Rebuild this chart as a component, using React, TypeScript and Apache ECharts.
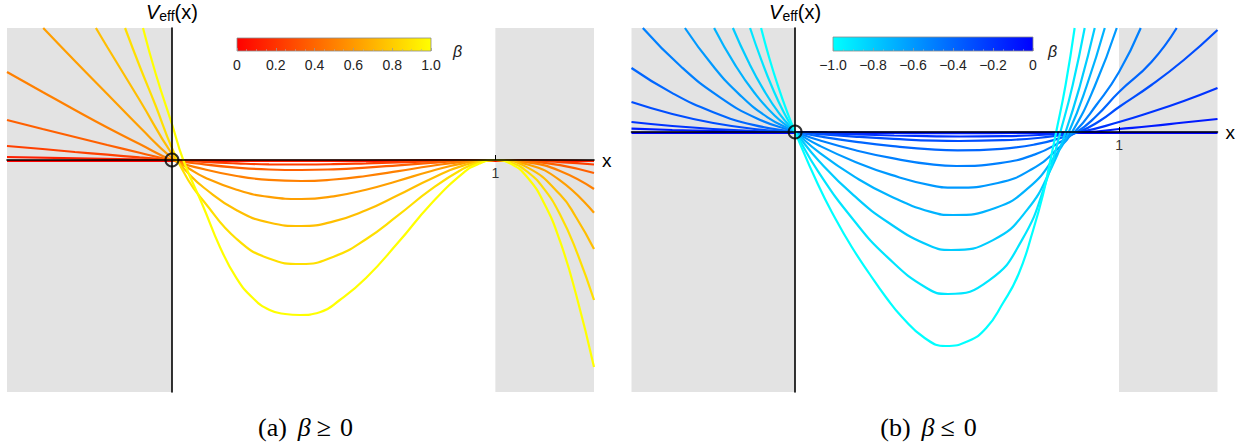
import React, { useEffect, useRef } from "react";
import * as echarts from "echarts";

// ---------- panel (a): beta >= 0 ----------
const X_RANGE_A = [-0.51, 1.305];
const Y_RANGE_A = [-2.32, 1.32];
const BETA_A = [0, 0.125, 0.25, 0.375, 0.5, 0.625, 0.75, 0.875, 1];

const a0 = [[-0.51, -0.01], [1.305, -0.01]];
const a1 = [[-0.51, 0.03], [-0.25, 0.014], [0, 0], [0.2, -0.005], [0.4, -0.006], [0.6, -0.005], [0.8, -0.002], [1.0, 0], [1.2, -0.004], [1.305, -0.01]];
const a2 = [[-0.51, 0.14], [-0.4, 0.11], [-0.3, 0.08], [-0.2, 0.053], [-0.1, 0.026], [0, 0], [0.1, -0.02], [0.2, -0.034], [0.3, -0.043], [0.4, -0.045], [0.5, -0.042], [0.6, -0.034], [0.7, -0.024], [0.8, -0.013], [0.9, -0.004], [1.0, 0], [1.1, -0.005], [1.2, -0.022], [1.305, -0.045]];
const a3 = [[-0.51, 0.4], [-0.4, 0.31], [-0.3, 0.23], [-0.2, 0.15], [-0.1, 0.073], [0, 0], [0.1, -0.044], [0.2, -0.076], [0.3, -0.095], [0.4, -0.1], [0.5, -0.093], [0.6, -0.076], [0.7, -0.053], [0.8, -0.029], [0.9, -0.009], [1.0, 0], [1.1, -0.012], [1.2, -0.052], [1.305, -0.13]];
const a4 = [[-0.51, 0.88], [-0.4, 0.68], [-0.3, 0.5], [-0.2, 0.325], [-0.1, 0.16], [0, 0], [0.1, -0.093], [0.2, -0.16], [0.3, -0.199], [0.4, -0.21], [0.5, -0.195], [0.6, -0.16], [0.7, -0.112], [0.8, -0.06], [0.9, -0.018], [1.0, 0], [1.1, -0.024], [1.2, -0.11], [1.305, -0.29]];
const a5 = [[-0.398, 1.32], [-0.3, 0.99], [-0.2, 0.66], [-0.1, 0.33], [0, 0.02], [0.05, -0.08], [0.1, -0.172], [0.2, -0.297], [0.3, -0.369], [0.4, -0.39], [0.5, -0.363], [0.6, -0.297], [0.7, -0.207], [0.8, -0.112], [0.9, -0.033], [1.0, 0], [1.1, -0.045], [1.2, -0.204], [1.305, -0.527]];
const a6 = [[-0.235, 1.32], [-0.2, 1.13], [-0.1, 0.6], [0, 0.06], [0.05, -0.13], [0.1, -0.28], [0.2, -0.503], [0.3, -0.625], [0.4, -0.66], [0.5, -0.614], [0.6, -0.503], [0.7, -0.35], [0.8, -0.189], [0.9, -0.056], [1.0, 0], [1.1, -0.076], [1.2, -0.346], [1.25, -0.575], [1.305, -0.89]];
const a7 = [[-0.145, 1.32], [-0.1, 0.94], [-0.05, 0.54], [0, 0.12], [0.05, -0.2], [0.1, -0.42], [0.2, -0.79], [0.3, -0.985], [0.4, -1.04], [0.5, -0.967], [0.6, -0.792], [0.7, -0.552], [0.8, -0.297], [0.9, -0.088], [0.95, -0.024], [1.0, 0], [1.05, -0.028], [1.1, -0.12], [1.15, -0.287], [1.2, -0.545], [1.25, -0.906], [1.305, -1.4]];
const a8 = [[-0.0895, 1.32], [-0.05, 0.86], [0, 0.36], [0.035, 0], [0.097, -0.467], [0.148, -0.867], [0.2, -1.183], [0.251, -1.383], [0.302, -1.5], [0.35, -1.54], [0.395, -1.55], [0.457, -1.523], [0.519, -1.4], [0.6, -1.18], [0.7, -0.823], [0.8, -0.443], [0.9, -0.132], [0.95, -0.036], [1.0, 0], [1.05, -0.041], [1.1, -0.178], [1.15, -0.428], [1.2, -0.812], [1.25, -1.35], [1.305, -2.07]];
const CURVES_A = [a0, a1, a2, a3, a4, a5, a6, a7, a8];

// ---------- panel (b): beta <= 0 ----------
const X_RANGE_B = [-0.505, 1.304];
const Y_RANGE_B = [-2.6, 1.04];
const BETA_B = [0, -0.1, -0.2, -0.3, -0.4, -0.5, -0.6, -0.7, -0.8, -0.9, -1.0];

const b0 = [[-0.505, -0.008], [1.304, -0.008]];
const b1 = [[-0.505, 0.034], [-0.379, 0.02], [-0.2525, 0.011], [-0.126, 0.004], [0, 0], [0.1, -0.004], [0.3, -0.009], [0.5, -0.012], [0.7, -0.009], [0.9, 0], [1.0, 0.03], [1.1, 0.06], [1.2, 0.095], [1.304, 0.13]];
const b2 = [[-0.505, 0.1], [-0.379, 0.06], [-0.2525, 0.03], [-0.126, 0.01], [0, 0], [0.076, -0.011], [0.191, -0.024], [0.306, -0.035], [0.437, -0.043], [0.508, -0.045], [0.644, -0.041], [0.753, -0.03], [0.835, -0.013], [0.88, 0], [1.0, 0.1], [1.1, 0.2], [1.2, 0.31], [1.304, 0.44]];
const b3 = [[-0.505, 0.3], [-0.379, 0.18], [-0.2525, 0.09], [-0.126, 0.03], [0, 0], [0.076, -0.022], [0.19, -0.048], [0.304, -0.069], [0.434, -0.087], [0.505, -0.09], [0.641, -0.082], [0.749, -0.06], [0.831, -0.026], [0.875, 0], [0.94, 0.11], [1.0, 0.25], [1.1, 0.47], [1.2, 0.72], [1.304, 1.02]];
const b4 = [[-0.505, 0.64], [-0.379, 0.389], [-0.2525, 0.198], [-0.126, 0.069], [0, 0], [0.076, -0.044], [0.189, -0.098], [0.302, -0.141], [0.432, -0.176], [0.502, -0.183], [0.637, -0.168], [0.745, -0.122], [0.825, -0.054], [0.87, 0], [0.93, 0.16], [1.0, 0.4], [1.1, 0.7], [1.178, 1.04]];
const b5 = [[-0.47, 1.04], [-0.3525, 0.655], [-0.235, 0.354], [-0.1175, 0.135], [0, 0], [0.075, -0.083], [0.187, -0.183], [0.3, -0.262], [0.428, -0.327], [0.498, -0.34], [0.632, -0.311], [0.739, -0.226], [0.819, -0.1], [0.863, 0], [0.93, 0.27], [1.0, 0.6], [1.067, 1.04]];
const b6 = [[-0.34, 1.04], [-0.255, 0.667], [-0.17, 0.369], [-0.085, 0.147], [0, 0], [0.074, -0.135], [0.186, -0.299], [0.297, -0.429], [0.424, -0.536], [0.493, -0.557], [0.626, -0.51], [0.732, -0.37], [0.812, -0.164], [0.855, 0], [0.924, 0.45], [0.993, 1.04]];
const b7 = [[-0.25, 1.04], [-0.1875, 0.683], [-0.125, 0.39], [-0.0625, 0.163], [0, 0], [0.073, -0.202], [0.183, -0.446], [0.293, -0.64], [0.419, -0.799], [0.487, -0.83], [0.618, -0.76], [0.723, -0.551], [0.802, -0.244], [0.845, 0], [0.9, 0.46], [0.956, 1.04]];
const b8 = [[-0.192, 1.04], [-0.144, 0.702], [-0.096, 0.416], [-0.048, 0.182], [0, 0], [0.073, -0.287], [0.181, -0.634], [0.29, -0.91], [0.414, -1.136], [0.482, -1.18], [0.611, -1.081], [0.715, -0.784], [0.793, -0.347], [0.835, 0], [0.88, 0.47], [0.925, 1.04]];
const b9 = [[-0.139, 1.04], [-0.104, 0.718], [-0.0695, 0.437], [-0.035, 0.198], [0, 0], [0.071, -0.394], [0.178, -0.87], [0.284, -1.249], [0.406, -1.56], [0.472, -1.62], [0.599, -1.484], [0.701, -1.076], [0.777, -0.476], [0.819, 0], [0.857, 0.47], [0.894, 1.04]];
const b10 = [[-0.105, 1.04], [-0.079, 0.733], [-0.0525, 0.458], [-0.026, 0.213], [0, 0], [0.07, -0.52], [0.125, -0.87], [0.175, -1.15], [0.23, -1.42], [0.28, -1.65], [0.33, -1.85], [0.4, -2.06], [0.465, -2.14], [0.535, -2.09], [0.59, -1.96], [0.64, -1.72], [0.69, -1.42], [0.735, -0.98], [0.765, -0.63], [0.785, -0.33], [0.806, 0], [0.835, 0.47], [0.863, 1.04]];
const CURVES_B = [b0, b1, b2, b3, b4, b5, b6, b7, b8, b9, b10];

// ---------- colour bars / texts ----------
const CB_A_TICKS = ["0", "0.2", "0.4", "0.6", "0.8", "1.0"];
const CB_B_TICKS = ["\u22121.0", "\u22120.8", "\u22120.6", "\u22120.4", "\u22120.2", "0"];
const X_TICK_VALUES = [1];
const X_TICK_LABELS = ["1"];
const CAPTION_A = "{t|(a)}{i|\u03b2}{r|\u2265}{t|0}";
const CAPTION_B = "{t|(b)}{i|\u03b2}{r|\u2264}{t|0}";

const SANS = "'Liberation Sans', Arial, Helvetica, sans-serif";
const SERIF = "'Liberation Serif', 'DejaVu Serif', 'Times New Roman', serif";

const hot = (b: number) => `rgb(255, ${Math.round(255 * b)}, 0)`;
const cool = (b: number) => `rgb(0, ${Math.round(255 * -b)}, 255)`;

function mainX(gridIndex: number, range: number[]) {
  return {
    gridIndex,
    type: "value",
    min: range[0],
    max: range[1],
    z: 3,
    name: "x",
    nameLocation: "end",
    nameGap: 8,
    nameTextStyle: { fontSize: 19, color: "#000", fontFamily: SANS },
    axisLine: { onZero: true, lineStyle: { color: "#000", width: 1.6 } },
    axisTick: { show: true, customValues: X_TICK_VALUES, inside: true, length: 5, lineStyle: { color: "#000", width: 1 } },
    axisLabel: { show: false },
    splitLine: { show: false },
  };
}

function mainY(gridIndex: number, range: number[]) {
  return {
    gridIndex,
    type: "value",
    min: range[0],
    max: range[1],
    z: 3,
    name: "{v|V}{s|eff}{p|(x)}",
    nameLocation: "end",
    nameGap: 5,
    nameTextStyle: {
      color: "#000",
      fontFamily: SANS,
      rich: {
        v: { fontSize: 20, fontStyle: "italic", lineHeight: 22, verticalAlign: "middle", fontFamily: SANS, color: "#000" },
        s: { fontSize: 14, lineHeight: 14, verticalAlign: "bottom", fontFamily: SANS, color: "#000" },
        p: { fontSize: 20, lineHeight: 22, verticalAlign: "middle", fontFamily: SANS, color: "#000" },
      },
    },
    axisLine: { onZero: true, lineStyle: { color: "#000", width: 1.6 } },
    axisTick: { show: false },
    axisLabel: { show: false },
    splitLine: { show: false },
  };
}

function cbX(gridIndex: number, min: number, labels: string[], gap: number) {
  return {
    gridIndex,
    type: "value",
    min,
    max: min + 1,
    interval: 0.2,
    z: 3,
    axisLine: { show: false },
    axisTick: { show: true, inside: true, length: 3, lineStyle: { color: "#999", width: 0.8 } },
    minorTick: { show: true, splitNumber: 4, length: 2, lineStyle: { color: "#aaa", width: 0.6 } },
    axisLabel: {
      formatter: (_v: number, i: number) => labels[i],
      margin: 7,
      fontSize: 14,
      color: "#222",
      fontFamily: SANS,
    },
    splitLine: { show: false },
    name: "\u03b2",
    nameLocation: "end",
    nameGap: gap,
    nameTextStyle: { fontStyle: "italic", fontSize: 16, color: "#222", fontFamily: SANS, padding: [0, 0, -4, 0] },
  };
}

export default function App() {
  const ref = useRef<HTMLDivElement>(null);

  useEffect(() => {
    if (!ref.current) return;
    const chart = echarts.init(ref.current, undefined, { renderer: "svg" });

    const curveSeries = (curves: number[][][], betas: number[], axis: number, colorFn: (b: number) => string) =>
      curves.map((data, i) => ({
        type: "line",
        xAxisIndex: axis,
        yAxisIndex: axis,
        data,
        showSymbol: false,
        symbol: "none",
        smooth: 0.5,
        silent: true,
        z: 2,
        lineStyle: { width: 2.2, color: colorFn(betas[i]) },
      }));

    const shade = (axis: number, range: number[]) => ({
      type: "line",
      xAxisIndex: axis,
      yAxisIndex: axis,
      data: [],
      symbol: "none",
      silent: true,
      z: 1,
      markArea: {
        silent: true,
        itemStyle: { color: "#e3e3e3" },
        data: [
          [{ xAxis: range[0] }, { xAxis: 0 }],
          [{ xAxis: 1 }, { xAxis: range[1] }],
        ],
      },
    });

    const origin = (axis: number) => ({
      type: "scatter",
      xAxisIndex: axis,
      yAxisIndex: axis,
      data: [[0, 0]],
      symbol: "circle",
      symbolSize: 13,
      silent: true,
      z: 6,
      itemStyle: { color: "rgba(0,0,0,0)", borderColor: "#000", borderWidth: 2 },
    });

    const tickLabel = (axis: number) => ({
      type: "scatter",
      xAxisIndex: axis,
      yAxisIndex: axis,
      data: X_TICK_VALUES.map((v) => [v, 0]),
      symbol: "circle",
      symbolSize: 1,
      silent: true,
      z: 6,
      itemStyle: { color: "rgba(0,0,0,0)" },
      label: {
        show: true,
        position: "bottom",
        distance: 5,
        formatter: (p: any) => X_TICK_LABELS[p.dataIndex],
        fontSize: 14,
        color: "#000",
        fontFamily: SANS,
      },
    });

    const colorbar = (axis: number, min: number, c0: string, c1: string) => ({
      type: "line",
      xAxisIndex: axis,
      yAxisIndex: axis,
      data: [],
      symbol: "none",
      silent: true,
      z: 2,
      markArea: {
        silent: true,
        itemStyle: {
          color: new echarts.graphic.LinearGradient(0, 0, 1, 0, [
            { offset: 0, color: c0 },
            { offset: 1, color: c1 },
          ]),
          borderColor: "#8a8a8a",
          borderWidth: 0.8,
        },
        data: [[{ xAxis: min, yAxis: 0 }, { xAxis: min + 1, yAxis: 1 }]],
      },
    });

    const captionRich = {
      t: { fontFamily: SERIF, fontSize: 26, color: "#000", padding: [0, 11, 0, 0] },
      i: { fontFamily: SERIF, fontSize: 26, fontStyle: "italic", color: "#000", padding: [0, 6, 0, 0] },
      r: { fontFamily: SERIF, fontSize: 26, color: "#000", padding: [0, 9, 0, 0] },
    };

    const option: any = {
      animation: false,
      backgroundColor: "#fff",
      textStyle: { fontFamily: SANS },
      grid: [
        { left: 7, top: 28, width: 587, height: 364 },
        { left: 631.5, top: 28, width: 586, height: 364 },
        { left: 237, top: 38, width: 194, height: 13 },
        { left: 833, top: 37, width: 200, height: 14 },
      ],
      xAxis: [
        mainX(0, X_RANGE_A),
        mainX(1, X_RANGE_B),
        cbX(2, 0, CB_A_TICKS, 22),
        cbX(3, -1, CB_B_TICKS, 15),
      ],
      yAxis: [
        mainY(0, Y_RANGE_A),
        mainY(1, Y_RANGE_B),
        { gridIndex: 2, min: 0, max: 1, show: false },
        { gridIndex: 3, min: 0, max: 1, show: false },
      ],
      series: [
        shade(0, X_RANGE_A),
        shade(1, X_RANGE_B),
        ...curveSeries(CURVES_A, BETA_A, 0, hot),
        ...curveSeries(CURVES_B, BETA_B, 1, cool),
        origin(0),
        origin(1),
        tickLabel(0),
        tickLabel(1),
        colorbar(2, 0, "#ff0000", "#ffff00"),
        colorbar(3, -1, "#00ffff", "#0000ff"),
      ],
      graphic: [
        {
          type: "text",
          x: 311,
          y: 427,
          silent: true,
          style: { text: CAPTION_A, fill: "#000", align: "center", verticalAlign: "middle", rich: captionRich },
        },
        {
          type: "text",
          x: 934,
          y: 427,
          silent: true,
          style: { text: CAPTION_B, fill: "#000", align: "center", verticalAlign: "middle", rich: captionRich },
        },
      ],
    };

    chart.setOption(option);
    return () => chart.dispose();
  }, []);

  return (
    <div
      ref={ref}
      style={{ position: "fixed", left: 0, top: 0, width: 1247, height: 444, background: "#fff" }}
    />
  );
}
